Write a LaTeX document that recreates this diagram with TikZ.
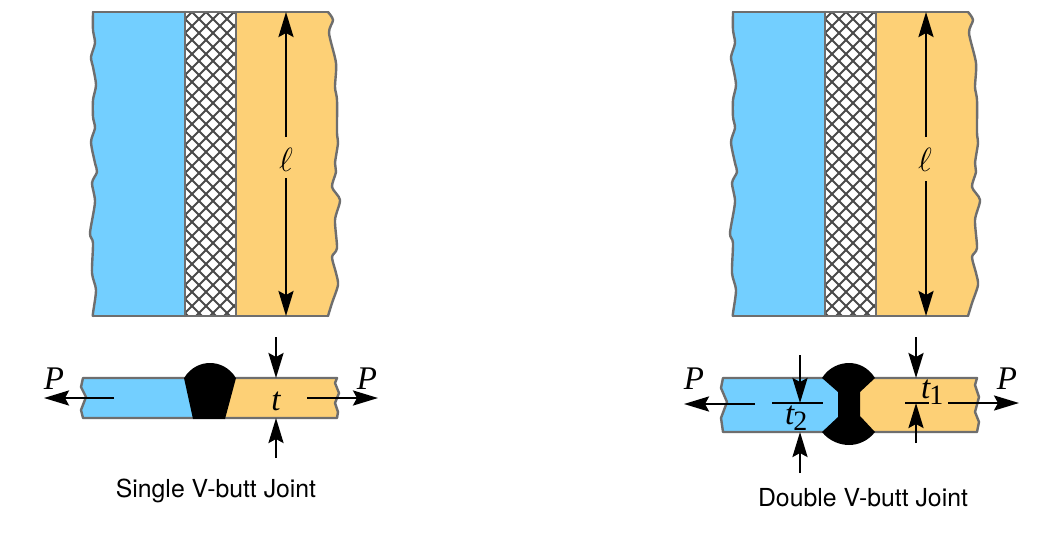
\documentclass[tikz,border=0pt]{standalone}
\usepackage{fontspec}
\setmainfont{TeX Gyre Heros}
\newfontfamily\italfont{Liberation Serif Italic}
\newfontfamily\romfont{Liberation Serif}
\usetikzlibrary{arrows.meta}
\definecolor{plateblue}{HTML}{73CFFF}
\definecolor{plateorange}{HTML}{FDD076}
\definecolor{edgegray}{HTML}{6E6E6E}
\definecolor{hatchgray}{HTML}{4A4A4A}
\tikzset{
  edgeline/.style={draw=edgegray,line width=2.4pt,line join=round,line cap=round},
  hatchline/.style={draw=hatchgray,line width=2pt},
  force/.style={black,line width=2.5pt,-{Stealth[length=25pt,width=15pt,inset=4pt]}},
  bar/.style={black,line width=2.5pt},
  caption/.style={font=\fontsize{24.8}{28}\selectfont,inner sep=0pt,anchor=center},
  symb/.style={font=\italfont\fontsize{33}{36}\selectfont,inner sep=0pt,anchor=center},
  ellsymb/.style={font=\fontsize{24.88}{28}\selectfont,inner sep=0pt,anchor=center},
}
\newcommand{\topplate}[2]{%
  \begin{scope}[xshift=#1pt]
    \fill[plateblue] (185,316) -- (185,12) -- plot[smooth,tension=.45] coordinates {(93,12) (93,30) (95,43) (91,57) (93,67) (96,85) (93,100) (93,117) (95,128) (91,142) (95,163) (97,172) (92,183) (95,202) (90,233) (93,243) (92,273) (96,290) (93,313) (93,316)} -- cycle;
    \fill[plateorange] (236,316) -- (236,12) -- plot[smooth,tension=.45] coordinates {(328,12) (333,20) (329,33) (336,63) (335,87) (337,100) (337,133) (338,143) (335,163) (336,172) (332,187) (340,200) (335,220) (337,248) (332,257) (336,273) (338,285) (332,303) (328,316)} -- cycle;
    \begin{scope}
      \clip (185,12) rectangle (236,316);
      \foreach \k in {-25,...,5} {
        \draw[hatchline] ({#2+\k*14},12) -- ({#2+\k*14+304},316);
        \draw[hatchline] ({#2-\k*14},12) -- ({#2-\k*14-304},316);
      }
    \end{scope}
    \draw[edgeline] plot[smooth,tension=.45] coordinates {(93,12) (93,30) (95,43) (91,57) (93,67) (96,85) (93,100) (93,117) (95,128) (91,142) (95,163) (97,172) (92,183) (95,202) (90,233) (93,243) (92,273) (96,290) (93,313) (93,316)};
    \draw[edgeline] plot[smooth,tension=.45] coordinates {(328,12) (333,20) (329,33) (336,63) (335,87) (337,100) (337,133) (338,143) (335,163) (336,172) (332,187) (340,200) (335,220) (337,248) (332,257) (336,273) (338,285) (332,303) (328,316)};
    \draw[edgeline] (93,12) -- (328,12) (93,316) -- (328,316);
    \draw[edgeline] (185,12) -- (185,316) (236,12) -- (236,316);
  \end{scope}}
\begin{document}
\begin{tikzpicture}[x=1pt,y=-1pt]
\useasboundingbox (0,0) rectangle (1056,536);
\fill[white] (0,0) rectangle (1056,536);

% top plates
\topplate{0}{206}
\topplate{640}{206}

% length arrows, left
\coordinate (lt1) at (286,12); \coordinate (ls1) at (286,137);
\coordinate (lb1) at (286,316); \coordinate (lu1) at (286,178);
\node[ellsymb] (ell1) at (286,160) {\scalebox{1.35}{$\ell$}};
\draw[force] (ls1) -- (lt1);
\draw[force] (lu1) -- (lb1);

% length arrows, right
\coordinate (lt2) at (926,12); \coordinate (ls2) at (926,137);
\coordinate (lb2) at (926,316); \coordinate (lu2) at (926,181);
\node[ellsymb] (ell2) at (925,160) {\scalebox{1.35}{$\ell$}};
\draw[force] (ls2) -- (lt2);
\draw[force] (lu2) -- (lb2);

% single V strip
\fill[plateblue] (200,378) -- (83,378) -- (81,387) -- (86,397) -- (81,410) -- (83,418) -- (200,418) -- cycle;
\fill[plateorange] (215,378) -- (337,378) -- (335,383) -- (339,393) -- (335,403) -- (338,412) -- (337,418) -- (215,418) -- cycle;
\draw[edgeline] (184,378) -- (83,378) -- (81,387) -- (86,397) -- (81,410) -- (83,418) -- (193,418);
\draw[edgeline] (236,378) -- (337,378) -- (335,383) -- (339,393) -- (335,403) -- (338,412) -- (337,418) -- (225,418);
\fill[black] (184,378) .. controls (191,367) and (201,363) .. (210,363) .. controls (219,363) and (229,367) .. (236,378) -- (225,419) -- (193,419) -- cycle;

% double V strip
\fill[plateblue] (840,378) -- (723,378) -- (721,388) -- (727,402) -- (721,418) -- (723,432) -- (840,432) -- cycle;
\fill[plateorange] (858,378) -- (977,378) -- (975,385) -- (979,397) -- (975,412) -- (979,422) -- (977,432) -- (858,432) -- cycle;
\draw[edgeline] (823,378) -- (723,378) -- (721,388) -- (727,402) -- (721,418) -- (723,432) -- (823,432);
\draw[edgeline] (874,378) -- (977,378) -- (975,385) -- (979,397) -- (975,412) -- (979,422) -- (977,432) -- (874,432);
\fill[black] (822,378) .. controls (829,367) and (840,363) .. (849,363) .. controls (858,363) and (868,367) .. (875,378) -- (860,392) -- (860,416) -- (875,432) .. controls (868,441) and (858,445) .. (849,445) .. controls (840,445) and (829,441) .. (822,432) -- (838,417) -- (838,392) -- cycle;

% single V forces
\coordinate (pa) at (114,398); \coordinate (pb) at (44,398);
\coordinate (pc) at (307,398); \coordinate (pd) at (378,398);
\draw[force] (pa) -- (pb);
\draw[force] (pc) -- (pd);
\coordinate (ta) at (276,337); \coordinate (tb) at (276,378);
\coordinate (tc) at (276,458); \coordinate (td) at (276,418);
\draw[force] (ta) -- (tb);
\draw[force] (tc) -- (td);
\node[symb] (p1) at (54,379) {P};
\node[symb] (p2) at (367,379) {P};
\node[symb] (t0) at (276,401) {t};
\node[caption] (cap1) at (216,491) {Single V-butt Joint};

% double V forces
\coordinate (qa) at (755,404); \coordinate (qb) at (684,404);
\coordinate (qc) at (948,403); \coordinate (qd) at (1019,403);
\draw[force] (qa) -- (qb);
\draw[force] (qc) -- (qd);
\coordinate (ua) at (916,337); \coordinate (ub) at (916,378);
\coordinate (uc) at (916,443); \coordinate (ud) at (916,403);
\draw[force] (ua) -- (ub);
\draw[force] (uc) -- (ud);
\coordinate (ue) at (905,403); \coordinate (uf) at (929,403);
\draw[bar] (ue) -- (uf);
\coordinate (va) at (800,355); \coordinate (vb) at (800,403);
\coordinate (vc) at (800,473); \coordinate (vd) at (800,432);
\draw[force] (va) -- (vb);
\draw[force] (vc) -- (vd);
\coordinate (ve) at (772,403); \coordinate (vf) at (823,403);
\draw[bar] (ve) -- (vf);
\node[symb] (p3) at (694,379) {P};
\node[symb] (p4) at (1007,379) {P};
\node[symb,anchor=west] (t1) at (921,392) {t\kern-1pt\raisebox{-6pt}{\romfont\fontsize{28}{30}\selectfont 1}};
\node[symb,anchor=west] (t2) at (785,418) {t\kern-1pt\raisebox{-6pt}{\romfont\fontsize{28}{30}\selectfont 2}};
\node[caption] (cap2) at (863,498) {Double V-butt Joint};
\end{tikzpicture}
\end{document}
